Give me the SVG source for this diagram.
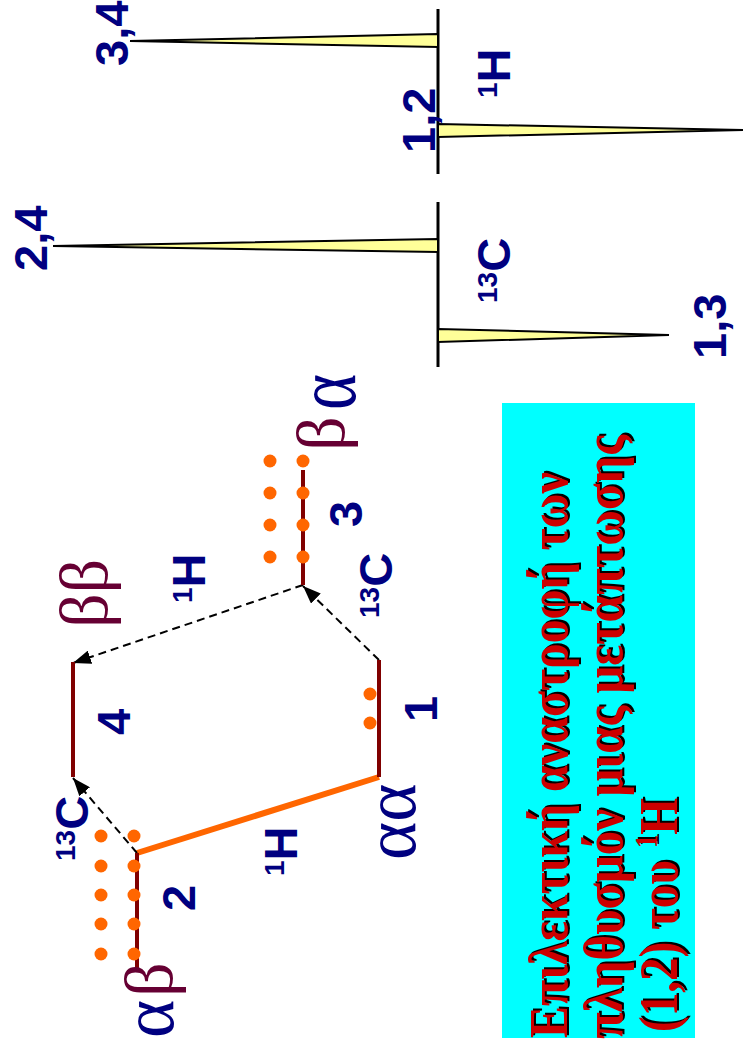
<svg xmlns="http://www.w3.org/2000/svg" width="743" height="1050" viewBox="0 0 743 1050">
<defs>
<style>
.lbl{font-family:"Liberation Sans",Arial,sans-serif;font-weight:bold;font-size:47px;fill:#000080}
.sup{font-size:28px}
.gk{font-family:"Liberation Serif","Times New Roman",serif}
.navy{fill:#000080}
.plum{fill:#660033}
.level{stroke:#800000;stroke-width:4;fill:none}
.dot{fill:#FF6600}
.dash{stroke:#000;stroke-width:2;stroke-dasharray:8 5;fill:none;marker-end:url(#ah)}
.axis{stroke:#000;stroke-width:3}
.peak{fill:#FFFF99;stroke:#000;stroke-width:2}
.box{font-family:"Liberation Serif","Times New Roman",serif;font-weight:bold;font-size:55px}
.red{fill:#CC0000}
.shd{fill:#000}
</style>
<marker id="ah" markerUnits="userSpaceOnUse" markerWidth="18" markerHeight="14" refX="18" refY="7" orient="auto"><path d="M0,0 L18,7 L0,14 z" fill="#000"/></marker>
</defs>
<rect width="743" height="1050" fill="#fff"/>

<g id="spectrum">
  <line class="axis" x1="438" y1="9" x2="438" y2="174"/>
  <line class="axis" x1="438" y1="202" x2="438" y2="367"/>
  <polygon class="peak" points="438,34 130,41 438,47"/>
  <polygon class="peak" points="438,124 745,130 438,137"/>
  <polygon class="peak" points="438,239 53,246 438,252"/>
  <polygon class="peak" points="438,329 669,335 438,342"/>
  <text class="lbl" transform="translate(128,66) rotate(-90)">3,4</text>
  <text class="lbl" transform="translate(47,271) rotate(-90)">2,4</text>
  <text class="lbl" transform="translate(435,153) rotate(-90)">1,2</text>
  <text class="lbl" transform="translate(726,359) rotate(-90)">1,3</text>
  <text class="lbl" transform="translate(510,98) rotate(-90)"><tspan class="sup" dy="-13">1</tspan><tspan dy="13">H</tspan></text>
  <text class="lbl" transform="translate(510,303) rotate(-90)"><tspan class="sup" dy="-13">13</tspan><tspan dy="13">C</tspan></text>
</g>

<g id="connectors">
  <line x1="379" y1="777" x2="137" y2="853" stroke="#FF6600" stroke-width="6" stroke-linecap="butt"/>
  <path class="dash" d="M137,853 L73,778"/>
  <path class="dash" d="M379,660 L303,586"/>
  <path class="dash" d="M303,585 L73,663"/>
  <text class="lbl" transform="translate(297,876) rotate(-90)"><tspan class="sup" dy="-13">1</tspan><tspan dy="13">H</tspan></text>
  <text class="lbl" transform="translate(205,603) rotate(-90)"><tspan class="sup" dy="-13">1</tspan><tspan dy="13">H</tspan></text>
  <text class="lbl" transform="translate(88,861) rotate(-90)"><tspan class="sup" dy="-13">13</tspan><tspan dy="13">C</tspan></text>
  <text class="lbl" transform="translate(392,618) rotate(-90)"><tspan class="sup" dy="-13">13</tspan><tspan dy="13">C</tspan></text>
</g>

<g id="level-bb">
  <line class="level" x1="73" y1="662" x2="73" y2="777"/>
  <text class="lbl" transform="translate(130,735) rotate(-90)">4</text>
  <text class="gk plum" font-size="68" transform="translate(107,628) rotate(-90)">ββ</text>
</g>

<g id="level-ab">
  <line class="level" x1="137" y1="853" x2="137" y2="970"/>
  <circle class="dot" cx="101" cy="836" r="6.5"/><circle class="dot" cx="101" cy="866" r="6.5"/><circle class="dot" cx="101" cy="895" r="6.5"/><circle class="dot" cx="101" cy="924" r="6.5"/><circle class="dot" cx="101" cy="954" r="6.5"/>
  <circle class="dot" cx="134" cy="836" r="6.5"/><circle class="dot" cx="134" cy="866" r="6.5"/><circle class="dot" cx="134" cy="895" r="6.5"/><circle class="dot" cx="134" cy="924" r="6.5"/><circle class="dot" cx="134" cy="954" r="6.5"/>
  <text class="lbl" transform="translate(195,911) rotate(-90)">2</text>
  <text class="gk navy" font-size="73" transform="translate(173,1038) rotate(-90)">α</text>
  <text class="gk plum" font-size="68" transform="translate(172,997) rotate(-90)">β</text>
</g>

<g id="level-aa">
  <line class="level" x1="379" y1="660" x2="379" y2="777"/>
  <circle class="dot" cx="370" cy="694" r="6.5"/><circle class="dot" cx="370" cy="723" r="6.5"/>
  <text class="lbl" transform="translate(437,722) rotate(-90)">1</text>
  <text class="gk navy" font-size="73" transform="translate(415,860) rotate(-90)">αα</text>
</g>

<g id="level-ba">
  <line class="level" x1="303" y1="470" x2="303" y2="585"/>
  <circle class="dot" cx="270" cy="461" r="6.5"/><circle class="dot" cx="270" cy="493" r="6.5"/><circle class="dot" cx="270" cy="525" r="6.5"/><circle class="dot" cx="270" cy="557" r="6.5"/>
  <circle class="dot" cx="303" cy="461" r="6.5"/><circle class="dot" cx="303" cy="493" r="6.5"/><circle class="dot" cx="303" cy="525" r="6.5"/><circle class="dot" cx="303" cy="557" r="6.5"/>
  <text class="lbl" transform="translate(362,527) rotate(-90)">3</text>
  <text class="gk plum" font-size="68" transform="translate(344,451) rotate(-90)">β</text>
  <text class="gk navy" font-size="86" transform="translate(355,410) rotate(-90) scale(0.8,1)">α</text>
</g>

<g id="caption">
  <rect x="502" y="403" width="193" height="635" fill="#00FFFF"/>
  <g transform="translate(567,1038) rotate(-90)">
    <text class="box shd" x="2" y="2" textLength="566" lengthAdjust="spacingAndGlyphs">Επιλεκτική αναστροφή των</text>
    <text class="box red" x="0" y="0" textLength="566" lengthAdjust="spacingAndGlyphs">Επιλεκτική αναστροφή των</text>
  </g>
  <g transform="translate(622,1039) rotate(-90)">
    <text class="box shd" x="2" y="2" textLength="604" lengthAdjust="spacingAndGlyphs">πληθυσμόν μιας μετάπτωσης</text>
    <text class="box red" x="0" y="0" textLength="604" lengthAdjust="spacingAndGlyphs">πληθυσμόν μιας μετάπτωσης</text>
  </g>
  <g transform="translate(677,1032) rotate(-90)">
    <text class="box shd" x="2" y="2" textLength="234" lengthAdjust="spacingAndGlyphs">(1,2) του <tspan font-size="32" dy="-20">1</tspan><tspan dy="20">H</tspan></text>
    <text class="box red" x="0" y="0" textLength="234" lengthAdjust="spacingAndGlyphs">(1,2) του <tspan font-size="32" dy="-20">1</tspan><tspan dy="20">H</tspan></text>
  </g>
</g>
</svg>
